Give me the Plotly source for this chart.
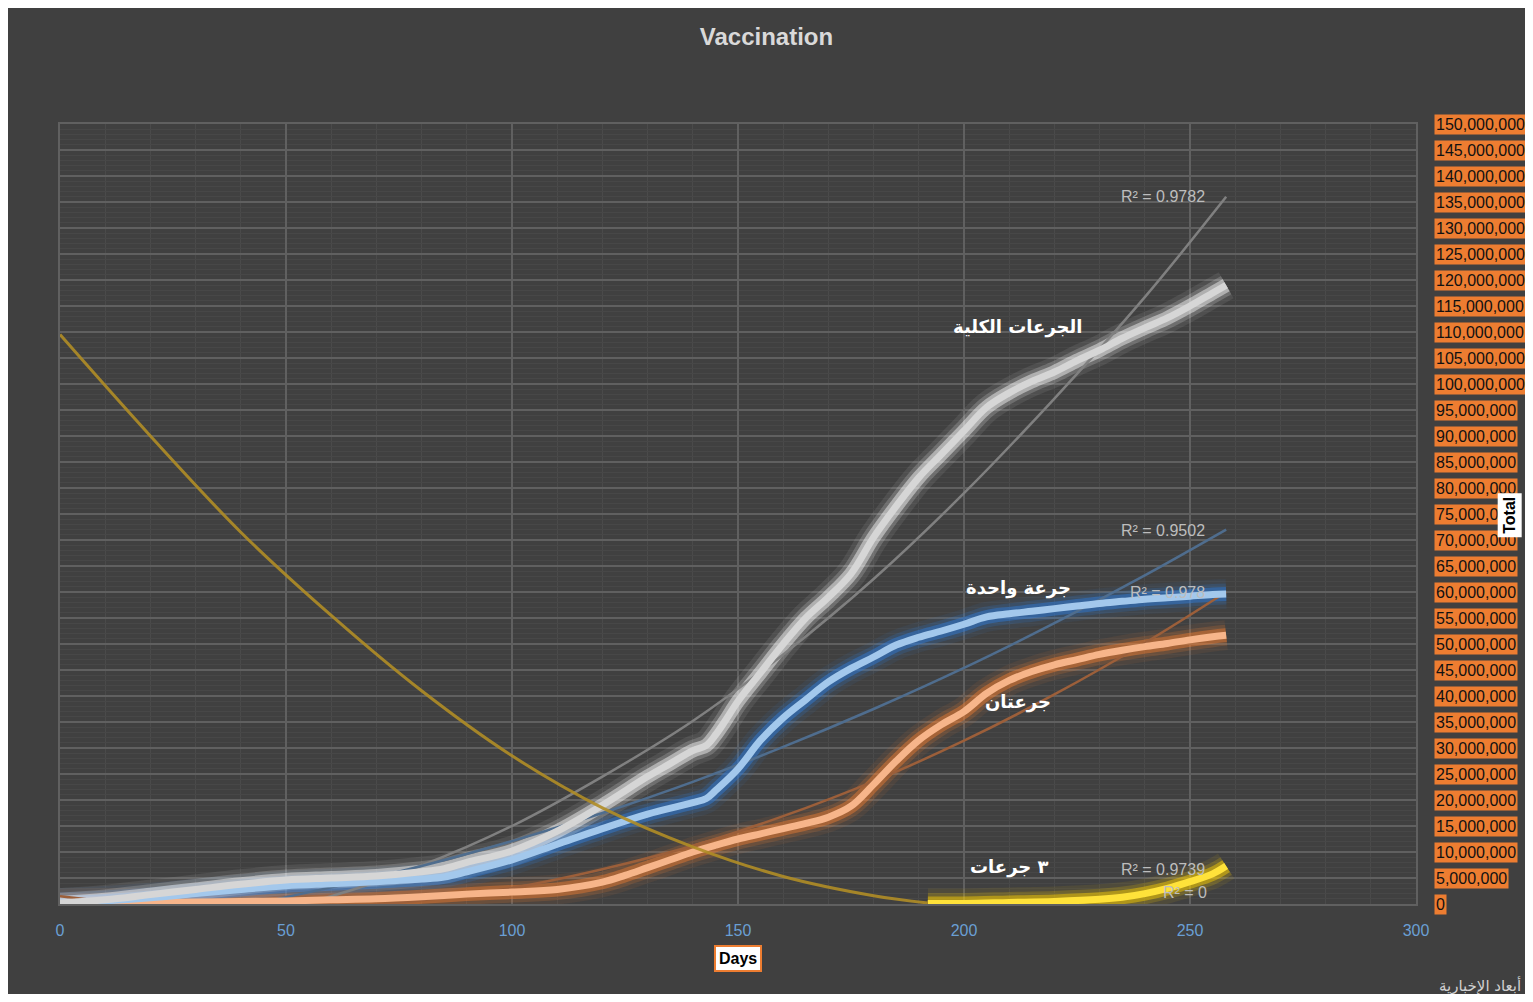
import plotly.graph_objects as go

M = 1_000_000

total_days = [0, 10, 20, 30, 40, 50, 60, 70, 80, 85, 90, 100, 110, 120, 130, 135, 140, 143, 145, 147,
              150, 155, 160, 165, 170, 175, 180, 185, 190, 195, 200, 205, 210, 215, 220, 225, 230, 235,
              240, 245, 250, 255, 258]
total_vals = [0.2, 0.8, 1.8, 2.8, 3.8, 4.6, 5.0, 5.4, 6.2, 6.8, 8.0, 10.2, 14.0, 19.0, 24.5, 27.0, 29.5,
              30.5, 32.5, 35.0, 39.0, 44.5, 50.0, 55.0, 59.0, 63.5, 70.5, 76.5, 82.0, 86.5, 91.0, 95.5,
              98.3, 100.5, 102.3, 104.5, 106.5, 108.8, 110.8, 112.7, 115.0, 117.5, 119.0]

one_days = [0, 10, 20, 30, 40, 50, 60, 70, 80, 85, 90, 100, 110, 120, 130, 140, 143, 145, 150, 155, 160,
            165, 170, 175, 180, 185, 190, 195, 200, 205, 210, 215, 220, 225, 230, 235, 240, 245, 250, 255, 258]
one_vals = [0.2, 0.6, 1.2, 2.0, 2.8, 3.5, 3.9, 4.3, 4.8, 5.2, 6.2, 8.5, 11.5, 14.5, 17.3, 19.5, 20.3, 21.8,
            26.0, 31.5, 35.8, 39.3, 42.7, 45.3, 47.5, 49.8, 51.3, 52.5, 53.8, 55.2, 55.8, 56.3, 56.8, 57.3,
            57.8, 58.2, 58.6, 58.9, 59.2, 59.5, 59.6]

two_days = [0, 10, 20, 30, 40, 50, 60, 70, 80, 90, 100, 110, 120, 125, 130, 135, 140, 145, 150, 155, 160,
            165, 170, 175, 180, 185, 190, 195, 200, 205, 210, 215, 220, 225, 230, 235, 240, 245, 250, 255, 258]
two_vals = [0.1, 0.2, 0.3, 0.4, 0.5, 0.6, 0.8, 1.0, 1.4, 1.9, 2.3, 2.8, 4.2, 5.5, 7.0, 8.5, 10.0, 11.3,
            12.5, 13.5, 14.5, 15.5, 16.7, 18.8, 23.0, 27.5, 31.5, 34.5, 37.0, 40.5, 43.0, 44.7, 46.0, 47.0,
            48.0, 48.8, 49.5, 50.1, 50.8, 51.4, 51.7]

three_days = [192, 200, 210, 220, 230, 235, 240, 245, 250, 255, 258]
three_vals = [0.1, 0.1, 0.3, 0.5, 0.9, 1.3, 2.0, 3.0, 4.3, 5.8, 7.3]

# polynomial trend lines as drawn (parts below zero fall outside the axis)
trend_days = [0, 20, 40, 60, 80, 100, 120, 140, 160, 180, 200, 220, 240, 258]
total_trend = [-5.6, -5.0, -2.6, 1.5, 7.4, 15.0, 24.5, 35.2, 48.0, 62.5, 79.0, 97.2, 116.7, 136.0]
one_trend = [-5.5, -3.2, -0.4, 3.2, 7.3, 12.1, 17.5, 23.5, 30.2, 37.5, 45.4, 54.0, 63.2, 72.0]
two_trend = [1.5, -0.3, -1.0, -0.7, 0.7, 3.1, 6.7, 11.2, 16.9, 23.6, 31.4, 40.3, 50.2, 60.0]
three_trend_days = [192, 210, 225, 240, 258]
three_trend = [0.6, -0.2, 0.5, 2.3, 6.8]
flat_trend_days = [0, 20, 40, 60, 80, 100, 120, 140, 160, 180, 192]
flat_trend = [109.5, 90.0, 71.5, 55.5, 41.0, 28.5, 18.5, 11.0, 5.3, 1.6, 0.2]

x_ticks = [0, 50, 100, 150, 200, 250, 300]
y_ticks = list(range(0, 150_000_001, 5_000_000))

r2_labels = [("R² = 0.9782", 244, 136.0), ("R² = 0.9502", 244, 71.9), ("R² = 0.978", 245, 60.0),
             ("R² = 0.9739", 244, 6.7), ("R² = 0", 249, 2.3)]
series_labels = [("الجرعات الكلية", 212, 111.0), ("جرعة واحدة", 212, 60.8),
                 ("جرعتان", 212, 38.8), ("٣ جرعات", 210, 7.1)]

BG = "#404040"
FONT = "Liberation Sans, Arial, sans-serif"


def mil(vals):
    return [v * M for v in vals]


series = [
    (two_days, two_vals, "237,125,49", "#f7b58a"),
    (one_days, one_vals, "46,125,220", "#a3c8ec"),
    (total_days, total_vals, "255,255,255", "#d6d6d6"),
    (three_days, three_vals, "255,210,0", "#ffe23a"),
]

fig = go.Figure()

# soft glow under each series
for days, vals, rgb, core in series:
    for width, alpha in [(30, 0.08), (21, 0.18), (14, 0.45)]:
        fig.add_trace(go.Scatter(
            x=days, y=mil(vals), mode="lines", hoverinfo="skip", showlegend=False,
            line=dict(color=f"rgba({rgb},{alpha})", width=width, shape="spline")
        ))

# trend lines
trends = [
    (trend_days, total_trend, "#808080"),
    (trend_days, one_trend, "#4f6d8e"),
    (trend_days, two_trend, "#9c5f3a"),
    (three_trend_days, three_trend, "#b39a20"),
]
for days, vals, color in trends:
    fig.add_trace(go.Scatter(
        x=days, y=mil(vals), mode="lines", hoverinfo="skip", showlegend=False,
        line=dict(color=color, width=2.5, shape="spline")
    ))

# bright cores
for days, vals, rgb, core in series:
    fig.add_trace(go.Scatter(
        x=days, y=mil(vals), mode="lines", showlegend=False,
        line=dict(color=core, width=7, shape="spline")
    ))

fig.add_trace(go.Scatter(
    x=flat_trend_days, y=mil(flat_trend), mode="lines", hoverinfo="skip", showlegend=False,
    line=dict(color="rgba(176,141,38,0.9)", width=3, shape="spline")
))

annotations = []
for v in y_ticks:
    annotations.append(dict(
        x=1, xref="paper", y=v, yref="y", xshift=18, xanchor="left", yanchor="middle",
        text=f"{v:,}", showarrow=False, bgcolor="#ed7d31", borderpad=1,
        font=dict(family=FONT, size=16, color="#111111")
    ))

for text, d, v in r2_labels:
    annotations.append(dict(
        x=d, y=v * M, text=text, showarrow=False, xanchor="center", yanchor="middle",
        font=dict(family=FONT, size=16, color="#bdbdbd")
    ))

for text, d, v in series_labels:
    annotations.append(dict(
        x=d, y=v * M, text=f"<b>{text}</b>", showarrow=False, xanchor="center", yanchor="middle",
        font=dict(family="DejaVu Sans, sans-serif", size=18, color="#ffffff")
    ))

annotations.append(dict(
    x=150, xref="x", y=-0.070, yref="paper", yanchor="middle", text="<b>Days</b>", showarrow=False,
    bgcolor="#ffffff", bordercolor="#ed7d31", borderwidth=2, borderpad=3,
    font=dict(family=FONT, size=16, color="#000000")
))
annotations.append(dict(
    x=1.0693, xref="paper", y=0.499, yref="paper", xanchor="center", yanchor="middle",
    text="<b>Total</b>", showarrow=False, textangle=-90, bgcolor="#ffffff", borderpad=3,
    font=dict(family=FONT, size=16, color="#000000")
))
annotations.append(dict(
    x=1.0789, xref="paper", y=-0.104, yref="paper", xanchor="right", yanchor="middle",
    text="أبعاد الإخبارية", showarrow=False,
    font=dict(family="DejaVu Sans, sans-serif", size=15, color="#d0d0d0")
))

# page body keeps an 8px margin, so the figure is sized to fit inside it
fig.update_layout(
    width=1517,
    height=986,
    paper_bgcolor=BG,
    plot_bgcolor=BG,
    margin=dict(l=52, r=109, t=116, b=90),
    title=dict(text="<b>Vaccination</b>", x=0.5, xanchor="center", y=0.9706, yanchor="middle",
               font=dict(family=FONT, size=24, color="#d9d9d9")),
    annotations=annotations,
    showlegend=False,
)

fig.update_xaxes(
    range=[0, 300], tickvals=x_ticks, ticks="", ticklabelstandoff=11,
    tickfont=dict(family=FONT, size=16, color="#6a9fd4"),
    showgrid=True, gridcolor="#606060", gridwidth=1.5, zeroline=False,
    showline=True, mirror=True, linecolor="#606060", linewidth=1.5,
    minor=dict(dtick=10, showgrid=True, gridcolor="#4a4a4a", gridwidth=1),
)
fig.update_yaxes(
    range=[0, 150 * M], tickvals=y_ticks, showticklabels=False, ticks="",
    showgrid=True, gridcolor="#606060", gridwidth=1.5, zeroline=False,
    showline=True, mirror=True, linecolor="#606060", linewidth=1.5,
    minor=dict(dtick=M, showgrid=True, gridcolor="#474747", gridwidth=1),
)

fig.write_html("out.html")
